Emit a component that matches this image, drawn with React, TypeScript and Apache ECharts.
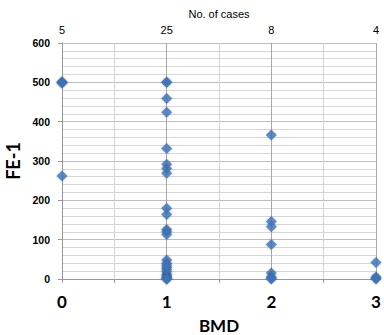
import React, { useEffect, useRef } from "react";
import * as echarts from "echarts";

const bmdTicks = [0, 1, 2, 3];
const caseCounts = ["5", "25", "8", "4"];
const bmd0 = [500, 500, 500, 498, 262];
const bmd1 = [500, 500, 459, 424, 332, 292, 281, 269, 180, 164, 126, 120, 113, 48, 40, 30, 19, 12, 8, 4, 2, 0, 0, 25, 35];
const bmd2 = [366, 146, 133, 88, 15, 5, 2, 0];
const bmd3 = [42, 5, 2, 0];

export default function App() {
  const ref = useRef<HTMLDivElement>(null);
  useEffect(() => {
    const chart = echarts.init(ref.current!, null, { renderer: "svg" });
    const data: number[][] = [];
    [bmd0, bmd1, bmd2, bmd3].forEach((arr, i) => arr.forEach((v) => data.push([bmdTicks[i], v])));
    chart.setOption({
      animation: false,
      grid: { left: 62, right: 8, top: 43, bottom: 56, containLabel: false, outerBoundsMode: "none" },
      xAxis: [
        {
          type: "value",
          min: 0,
          max: 3,
          interval: 0.5,
          position: "bottom",
          name: "BMD",
          nameLocation: "middle",
          nameGap: 38,
          nameTextStyle: { fontFamily: "Lato", fontWeight: "bold", fontSize: 17, color: "#000" },
          axisLine: { show: true, lineStyle: { color: "#999" } },
          axisTick: { show: true, length: 4, lineStyle: { color: "#999" } },
          axisLabel: {
            formatter: (v: number) => (Number.isInteger(v) ? String(v) : ""),
            fontFamily: "Lato",
            fontWeight: "bold",
            fontSize: 17,
            color: "#000",
            margin: 14,
          },
          splitLine: { show: true, lineStyle: { color: ["#a8a8a8", "#d4d4d4"], width: 1 } },
        },
        {
          type: "value",
          min: 0,
          max: 3,
          interval: 1,
          position: "top",
          name: "No. of cases",
          nameLocation: "middle",
          nameGap: 19,
          nameTextStyle: { fontFamily: "Liberation Sans", fontSize: 11, color: "#000" },
          axisLine: { show: false },
          axisTick: { show: false },
          axisLabel: {
            formatter: (v: number) => caseCounts[bmdTicks.indexOf(v)] ?? "",
            fontFamily: "Liberation Sans",
            fontSize: 11,
            color: "#000",
            margin: 8,
          },
          splitLine: { show: false },
        },
      ],
      yAxis: {
        type: "value",
        min: 0,
        max: 600,
        interval: 100,
        name: "FE-1",
        nameLocation: "middle",
        nameGap: 38,
        nameTextStyle: { fontFamily: "Lato", fontWeight: "bold", fontSize: 18, color: "#000" },
        axisLine: { show: true, lineStyle: { color: "#999" } },
        axisTick: { show: true, length: 4, lineStyle: { color: "#999" } },
        axisLabel: { fontFamily: "Liberation Sans", fontWeight: "bold", fontSize: 10.5, color: "#000", margin: 12 },
        splitLine: { show: true, lineStyle: { color: "#bdbdbd" } },
        minorTick: { show: true, splitNumber: 5, length: 0 },
        minorSplitLine: { show: true, lineStyle: { color: "#d6d6d6" } },
      },
      series: [
        {
          type: "scatter",
          xAxisIndex: 0,
          symbol: "diamond",
          symbolSize: 11,
          itemStyle: { color: "#3f74b8", shadowBlur: 2, shadowColor: "rgba(0,0,0,0.25)" },
          data,
        },
      ],
    });
    return () => chart.dispose();
  }, []);
  return <div ref={ref} style={{ position: "absolute", left: 0, top: 0, width: 384, height: 335 }} />;
}
